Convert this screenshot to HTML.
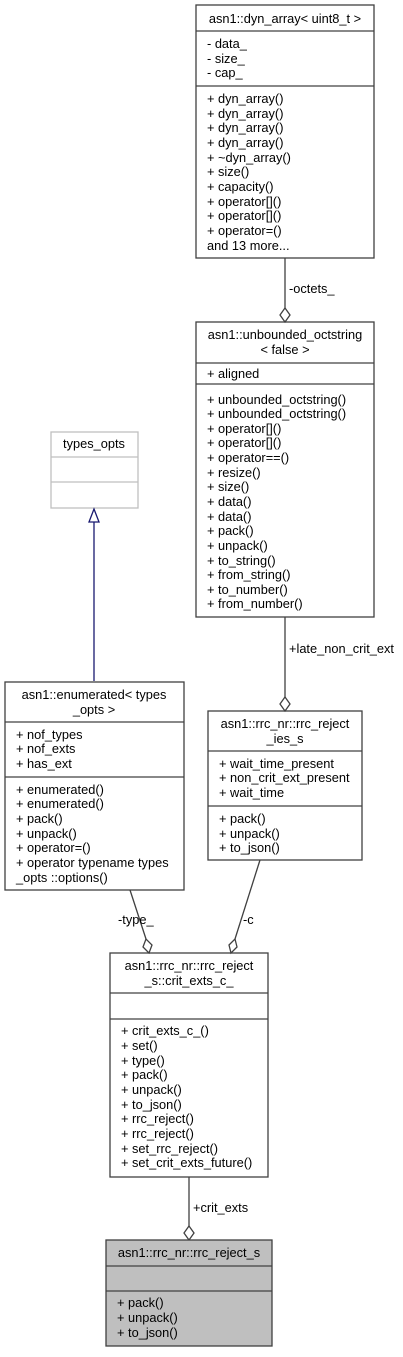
<!DOCTYPE html>
<html><head><meta charset="utf-8"><style>
html,body{margin:0;padding:0;background:#fff}
svg text{font-family:"Liberation Sans",Arial,sans-serif;font-size:12.8px;fill:#000}
</style></head><body>
<svg width="403" height="1352" viewBox="0 0 403 1352" xmlns="http://www.w3.org/2000/svg">
<g fill="#fff" stroke="#404040" stroke-width="1.3">
<rect x="196" y="5" width="178" height="253"/>
<line x1="196" y1="31" x2="374" y2="31"/><line x1="196" y1="86" x2="374" y2="86"/>
<rect x="196" y="322" width="178" height="295"/>
<line x1="196" y1="363" x2="374" y2="363"/><line x1="196" y1="384" x2="374" y2="384"/>
<rect x="5" y="682" width="179" height="208"/>
<line x1="5" y1="722" x2="184" y2="722"/><line x1="5" y1="777" x2="184" y2="777"/>
<rect x="208" y="711" width="154" height="149"/>
<line x1="208" y1="751" x2="362" y2="751"/><line x1="208" y1="806" x2="362" y2="806"/>
<rect x="110" y="953" width="158" height="224"/>
<line x1="110" y1="993" x2="268" y2="993"/><line x1="110" y1="1019" x2="268" y2="1019"/>
<line x1="285" y1="258" x2="285" y2="308"/>
<polygon points="285,322 280,315 285,308 290,315"/>
<line x1="285" y1="617" x2="285" y2="697"/>
<polygon points="285,711 280,704 285,697 290,704"/>
<line x1="130" y1="890" x2="146" y2="939"/>
<polygon points="149,953 143,947 146,939 152,945"/>
<line x1="260" y1="860" x2="235" y2="939"/>
<polygon points="231,953 229,945 235,939 237,947"/>
<line x1="189" y1="1177" x2="189" y2="1226"/>
<polygon points="189,1240 184,1233 189,1226 194,1233"/>
</g>
<g fill="#fff" stroke="#bfbfbf" stroke-width="1.3">
<rect x="51" y="432" width="87" height="76"/>
<line x1="51" y1="457" x2="138" y2="457"/><line x1="51" y1="482" x2="138" y2="482"/>
</g>
<line x1="94" y1="522" x2="94" y2="681" stroke="#191970" stroke-width="1.3"/>
<polygon points="94,509 89,522 99,522" fill="#fff" stroke="#191970" stroke-width="1.3"/>
<rect x="106" y="1240" width="166" height="106" fill="#bfbfbf" stroke="#404040" stroke-width="1.3"/>
<line x1="106" y1="1266" x2="272" y2="1266" stroke="#404040" stroke-width="1.3"/>
<line x1="106" y1="1291" x2="272" y2="1291" stroke="#404040" stroke-width="1.3"/>

<text x="285" y="23" text-anchor="middle">asn1::dyn_array&lt; uint8_t &gt;</text>
<text x="207" y="48">- data_</text><text x="207" y="63">- size_</text><text x="207" y="77">- cap_</text>
<text x="207" y="103">+ dyn_array()</text><text x="207" y="118">+ dyn_array()</text><text x="207" y="132">+ dyn_array()</text><text x="207" y="147">+ dyn_array()</text><text x="207" y="162">+ ~dyn_array()</text><text x="207" y="176">+ size()</text><text x="207" y="191">+ capacity()</text><text x="207" y="206">+ operator[]()</text><text x="207" y="220">+ operator[]()</text><text x="207" y="235">+ operator=()</text><text x="207" y="250">and 13 more...</text>
<text x="289" y="293">-octets_</text>

<text x="285" y="339" text-anchor="middle">asn1::unbounded_octstring</text>
<text x="285" y="354" text-anchor="middle">&lt; false &gt;</text>
<text x="207" y="378">+ aligned</text>
<text x="207" y="404">+ unbounded_octstring()</text><text x="207" y="418">+ unbounded_octstring()</text><text x="207" y="433">+ operator[]()</text><text x="207" y="447">+ operator[]()</text><text x="207" y="462">+ operator==()</text><text x="207" y="477">+ resize()</text><text x="207" y="491">+ size()</text><text x="207" y="506">+ data()</text><text x="207" y="521">+ data()</text><text x="207" y="535">+ pack()</text><text x="207" y="550">+ unpack()</text><text x="207" y="565">+ to_string()</text><text x="207" y="579">+ from_string()</text><text x="207" y="594">+ to_number()</text><text x="207" y="608">+ from_number()</text>
<text x="289" y="653">+late_non_crit_ext</text>

<text x="94" y="448" text-anchor="middle">types_opts</text>

<text x="94" y="699" text-anchor="middle">asn1::enumerated&lt; types</text>
<text x="94" y="714" text-anchor="middle">_opts &gt;</text>
<text x="16" y="739">+ nof_types</text><text x="16" y="753">+ nof_exts</text><text x="16" y="768">+ has_ext</text>
<text x="16" y="794">+ enumerated()</text><text x="16" y="808">+ enumerated()</text><text x="16" y="823">+ pack()</text><text x="16" y="838">+ unpack()</text><text x="16" y="852">+ operator=()</text><text x="16" y="867">+ operator typename types</text><text x="16" y="882">_opts ::options()</text>

<text x="285" y="728" text-anchor="middle">asn1::rrc_nr::rrc_reject</text>
<text x="285" y="743" text-anchor="middle">_ies_s</text>
<text x="219" y="768">+ wait_time_present</text><text x="219" y="782">+ non_crit_ext_present</text><text x="219" y="797">+ wait_time</text>
<text x="219" y="823">+ pack()</text><text x="219" y="838">+ unpack()</text><text x="219" y="852">+ to_json()</text>

<text x="118" y="924">-type_</text>
<text x="243" y="924">-c</text>

<text x="189" y="970" text-anchor="middle">asn1::rrc_nr::rrc_reject</text>
<text x="189" y="985" text-anchor="middle">_s::crit_exts_c_</text>
<text x="121" y="1035">+ crit_exts_c_()</text><text x="121" y="1050">+ set()</text><text x="121" y="1065">+ type()</text><text x="121" y="1079">+ pack()</text><text x="121" y="1094">+ unpack()</text><text x="121" y="1109">+ to_json()</text><text x="121" y="1123">+ rrc_reject()</text><text x="121" y="1138">+ rrc_reject()</text><text x="121" y="1153">+ set_rrc_reject()</text><text x="121" y="1167">+ set_crit_exts_future()</text>
<text x="193" y="1212">+crit_exts</text>

<text x="189" y="1257" text-anchor="middle">asn1::rrc_nr::rrc_reject_s</text>
<text x="117" y="1307">+ pack()</text><text x="117" y="1322">+ unpack()</text><text x="117" y="1337">+ to_json()</text>
</svg>
</body></html>
